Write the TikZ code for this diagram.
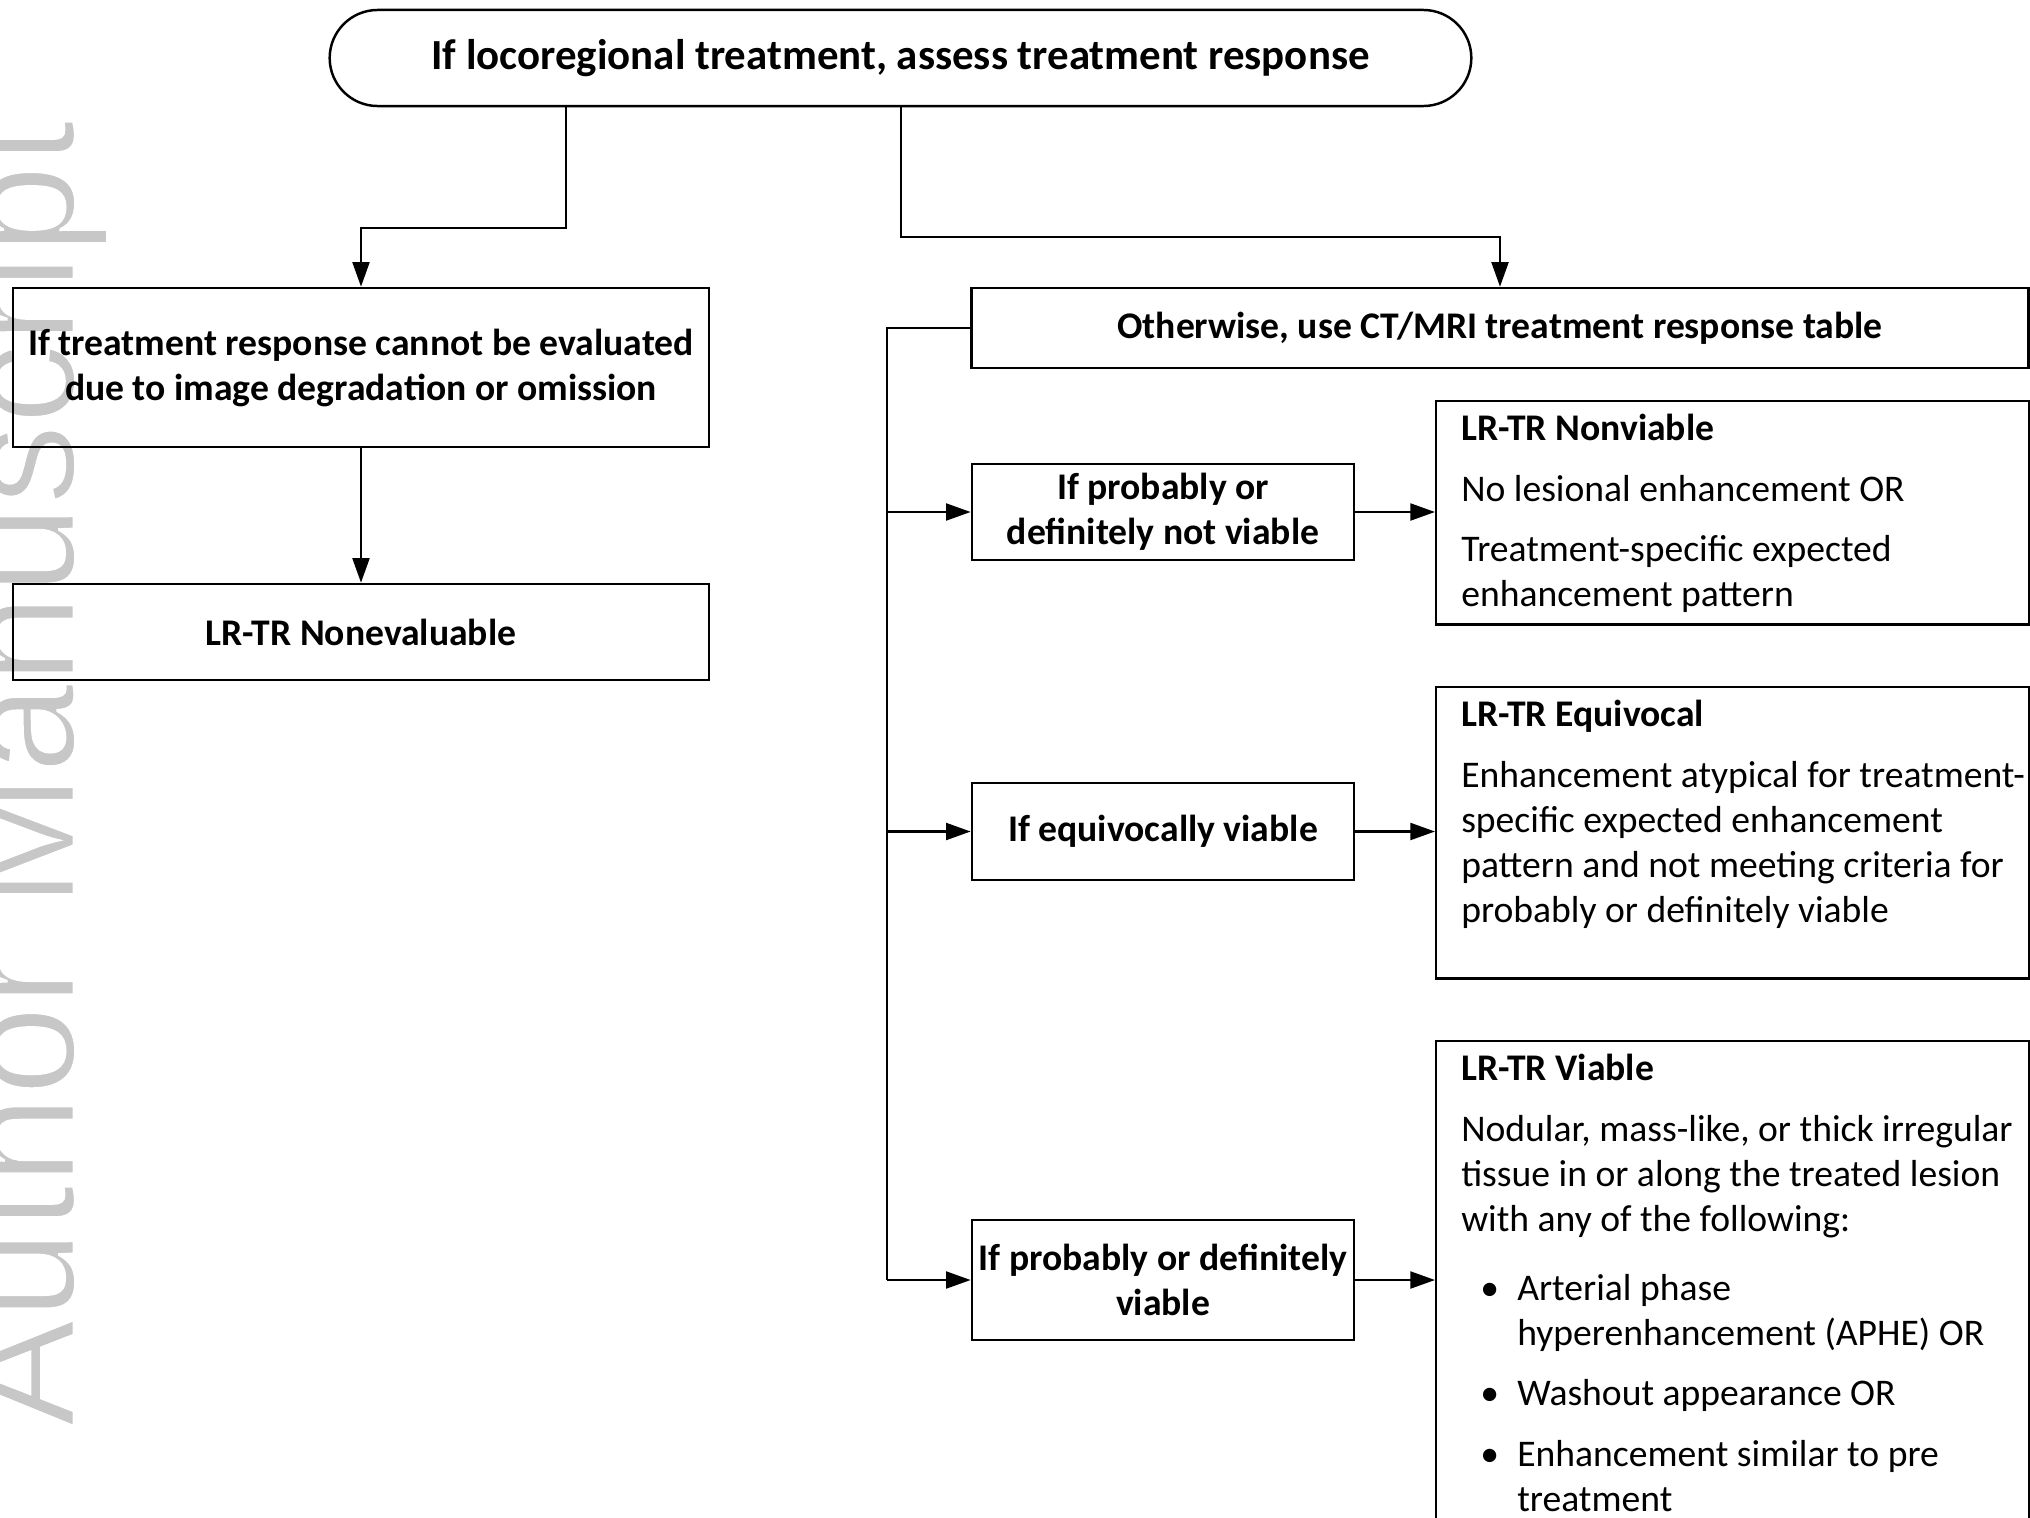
\documentclass[tikz,border=0pt]{standalone}
\usepackage{fontspec}
\setmainfont{Carlito}
\newfontfamily\wmfont{Liberation Sans}
\usetikzlibrary{arrows.meta,positioning}
\newcommand\resbody[2]{\parbox[t][#1][t]{5.93cm}{\raggedright\leftskip=0.25cm
  \setlength\parskip{4.5pt}\rule{0pt}{0.39cm}#2}}
\newcommand\bul{\par\hangindent=0.56cm\hangafter=1\noindent
  \hspace*{0.19cm}\makebox[0.37cm][l]{\textbullet}}

\begin{document}
\begin{tikzpicture}[x=0.01cm,y=-0.01cm,line width=0.7pt,
  font=\fontsize{10.7}{12.8}\selectfont,
  box/.style={draw,align=center,inner sep=1pt,font=\fontsize{10.7}{12.8}\selectfont\bfseries},
  resbox/.style={draw,anchor=north west,inner sep=0pt},
  arr/.style={-{Triangle[length=7pt,width=4.8pt]}}]
\clip (0,0) rectangle (2030,1518);
% watermark on the left edge (thin strokes: white outline over the grey glyphs)
\node[rotate=90,anchor=base west,inner sep=0pt,text=black!22,
  font=\wmfont\fontsize{45.8}{50}\selectfont] (watermark) at (74,1428)
  {\special{pdf:literal direct 2 Tr 1 G 0.8 w}Author Manuscript\special{pdf:literal direct 0 Tr}};
% left column
\node[box,rounded corners=0.48cm,minimum width=11.41cm,minimum height=0.96cm,
  font=\fontsize{12.2}{14.6}\selectfont\bfseries] (assess) at (900.5,58)
  {If locoregional treatment, assess treatment response};
\node[box,minimum width=6.96cm,minimum height=1.59cm] (cannot) at (361,367.5)
  {If treatment response cannot be evaluated\\due to image degradation or omission};
\node[box,minimum width=6.96cm,minimum height=0.96cm] (noneval) at (361,632) {LR-TR Nonevaluable};
% middle column
\node[box,minimum width=10.56cm,minimum height=0.8cm] (ctmri) at (1500,328)
  {Otherwise, use CT/MRI treatment response table};
\node[box,minimum width=3.82cm,minimum height=0.96cm] (ifnot) at (1163,512) {If probably or\\definitely not viable};
\node[box,minimum width=3.82cm,minimum height=0.97cm] (ifequiv) at (1163,831.5) {If equivocally viable};
\node[box,minimum width=3.82cm,minimum height=1.2cm] (ifviable) at (1163,1280) {If probably or definitely\\viable};
% result boxes
\node[resbox] (nonviable) at (1435,400) {\resbody{2.23cm}{\textbf{LR-TR Nonviable}\par
  No lesional enhancement OR\par
  Treatment-specific expected\\enhancement pattern}};
\node[resbox] (equivocal) at (1435,686) {\resbody{2.91cm}{\textbf{LR-TR Equivocal}\par
  Enhancement atypical for treatment-\\specific expected enhancement\\pattern and not meeting criteria for\\probably or definitely viable}};
\node[resbox] (viable) at (1435,1040) {\resbody{5cm}{\textbf{LR-TR Viable}\par
  Nodular, mass-like, or thick irregular\\tissue in or along the treated lesion\\with any of the following:\par
  \vspace{2.3pt}
  \bul Arterial phase\newline hyperenhancement (APHE) OR
  \bul Washout appearance OR
  \bul Enhancement similar to pre\newline treatment}};
% connectors
\coordinate (forkL) at (566,228);
\coordinate (forkR) at (901,237);
\coordinate (trunk) at (887,328);
\draw[arr] (assess.south -| forkL) -- (forkL) -| (cannot.north);
\draw[arr] (assess.south -| forkR) -- (forkR) -| (ctmri.north);
\draw[arr] (cannot) -- (noneval);
\draw (ctmri.west) -- (trunk) -- (trunk |- ifviable.west);
\foreach \n in {ifnot,ifequiv,ifviable}
  \draw[arr] (trunk |- \n.west) -- (\n.west);
\draw[arr] (ifnot) -- (ifnot -| nonviable.west);
\draw[arr] (ifequiv) -- (ifequiv -| equivocal.west);
\draw[arr] (ifviable) -- (ifviable -| viable.west);
\end{tikzpicture}
\end{document}
